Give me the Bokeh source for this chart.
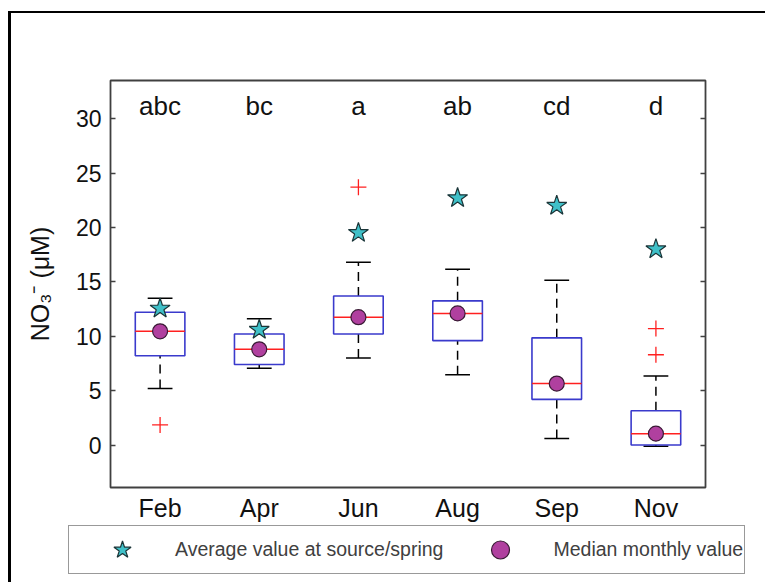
from bokeh.plotting import figure
from bokeh.models import (FactorRange, FixedTicker, LinearAxis, Range1d, Legend, LegendItem,
                          ColumnDataSource, CustomJSTickFormatter)
from bokeh.transform import dodge
from bokeh.core.properties import value
from bokeh.embed import file_html
from bokeh.resources import INLINE

months = ["Feb", "Apr", "Jun", "Aug", "Sep", "Nov"]
letters = ["abc", "bc", "a", "ab", "cd", "d"]
whisker_low = [5.2, 7.05, 8.0, 6.45, 0.6, -0.1]
q1 = [8.2, 7.4, 10.2, 9.6, 4.2, 0.0]
median = [10.45, 8.8, 11.75, 12.1, 5.65, 1.05]
q3 = [12.2, 10.2, 13.7, 13.25, 9.85, 3.15]
whisker_high = [13.5, 11.6, 16.8, 16.15, 15.15, 6.35]
source_avg = [12.55, 10.6, 19.5, 22.7, 22.0, 18.0]
outlier_month = ["Feb", "Jun", "Nov", "Nov"]
outlier_value = [1.85, 23.7, 10.7, 8.3]
letter_y = [31.2] * 6
y_ticks = [0, 5, 10, 15, 20, 25, 30]
legend_labels = ["Average value at source/spring", "Median monthly value"]

FONT = "Liberation Sans"
STAR_FILL, STAR_LINE = "#3fc0c8", "#1b3538"
CIRC_FILL, CIRC_LINE = "#b0409f", "#3a1a35"

src = ColumnDataSource(dict(month=months, letters=letters, low=whisker_low, q1=q1,
                            med=median, q3=q3, high=whisker_high, avg=source_avg,
                            ly=letter_y))
out_src = ColumnDataSource(dict(month=outlier_month, val=outlier_value))

W = 757
p = figure(width=W, height=511, output_backend="svg", toolbar_location=None,
           x_range=FactorRange(*months, range_padding=0), y_range=Range1d(-3.9, 33.5),
           min_border_left=99, min_border_right=63, min_border_top=67, min_border_bottom=35,
           styles={"margin-left": "8px", "margin-top": "11px",
                   "border-left": "3px solid black", "border-top": "2px solid black"})
p.grid.visible = False
p.outline_line_color = "#404040"
p.outline_line_width = 1.8
p.background_fill_color = "white"
p.border_fill_color = "white"

# axes
xa = p.xaxis[0]
xa.major_tick_in = 0
xa.major_tick_out = 0
xa.axis_line_color = None
xa.major_label_text_font = FONT
xa.major_label_text_font_size = "25px"
xa.major_label_text_color = "#111111"
xa.major_label_standoff = 6

ya = p.yaxis[0]
ya.ticker = FixedTicker(ticks=y_ticks)
ya.minor_tick_line_color = None
ya.major_tick_in = 5
ya.major_tick_out = 0
ya.axis_line_color = None
ya.major_tick_line_color = "#404040"
ya.major_tick_line_width = 1.5
ya.major_label_text_font = FONT
ya.major_label_text_font_size = "23px"
ya.major_label_text_color = "#111111"
ya.major_label_standoff = 9
ya.axis_label = "NO₃⁻ (μM)"
ya.axis_label_text_font = FONT
ya.axis_label_text_font_style = "normal"
ya.axis_label_text_font_size = "25px"
ya.axis_label_text_color = "#111111"
ya.axis_label_standoff = 19

ra = LinearAxis(ticker=FixedTicker(ticks=y_ticks), formatter=CustomJSTickFormatter(code="return ''"))
ra.minor_tick_line_color = None
ra.major_tick_in = 5
ra.major_tick_out = 0
ra.axis_line_color = None
ra.major_tick_line_color = "#404040"
ra.major_tick_line_width = 1.5
p.add_layout(ra, "right")

# whisker stems (dashed)
p.segment(x0="month", y0="q3", x1="month", y1="high", source=src,
          line_color="black", line_width=1.5, line_dash="9 6")
p.segment(x0="month", y0="low", x1="month", y1="q1", source=src,
          line_color="black", line_width=1.5, line_dash="9 6")
# whisker caps
for col in ("high", "low"):
    p.segment(x0=dodge("month", -0.125, range=p.x_range), y0=col,
              x1=dodge("month", 0.125, range=p.x_range), y1=col, source=src,
              line_color="black", line_width=1.5)
# boxes
p.vbar(x="month", width=0.5, bottom="q1", top="q3", source=src,
       fill_color="white", line_color="#3a3acc", line_width=1.6)
# median lines
p.segment(x0=dodge("month", -0.25, range=p.x_range), y0="med",
          x1=dodge("month", 0.25, range=p.x_range), y1="med", source=src,
          line_color="#ff2020", line_width=1.5)
# outliers
p.scatter(x="month", y="val", source=out_src, marker="cross", size=16,
          line_color="#ff2020", line_width=1.3)
# stars and circles
p.scatter(x="month", y="avg", source=src, marker="star", size=21,
          fill_color=STAR_FILL, line_color=STAR_LINE, line_width=1.2)
p.scatter(x="month", y="med", source=src, marker="circle", size=15,
          fill_color=CIRC_FILL, line_color=CIRC_LINE, line_width=1.2)
# letters
p.text(x="month", y="ly", text="letters", source=src, text_font=value(FONT),
       text_font_size="26px", text_align="center", text_baseline="middle",
       text_color="#111111")

# legend strip below the plot (separate root so its frame is not aligned with p)
lf = figure(width=W, height=60, output_backend="svg", toolbar_location=None,
            x_range=Range1d(0, 1), y_range=Range1d(0, 1), x_axis_type=None, y_axis_type=None,
            min_border=0, min_border_left=0, min_border_right=0, min_border_top=0,
            min_border_bottom=0,
            styles={"margin-left": "8px", "border-left": "3px solid black"})
lf.grid.visible = False
lf.outline_line_color = None
lf.border_fill_color = "white"
leg_star = lf.scatter(x=[-10], y=[-10], marker="star", fill_color=STAR_FILL,
                      line_color=STAR_LINE, line_width=1.2)
leg_circ = lf.scatter(x=[-10], y=[-10], marker="circle", fill_color=CIRC_FILL,
                      line_color=CIRC_LINE, line_width=1.2)
legend = Legend(items=[LegendItem(label=legend_labels[0], renderers=[leg_star]),
                       LegendItem(label=legend_labels[1], renderers=[leg_circ])],
                orientation="horizontal", location=(57, 8),
                padding=1, margin=0, spacing=5, glyph_width=104, glyph_height=45,
                label_standoff=1, label_text_font=FONT, label_text_font_size="19.5px",
                label_text_color="#404040", border_line_color="#333333",
                border_line_width=1.5, background_fill_color="white", background_fill_alpha=1)
lf.add_layout(legend, "center")

open("out.html", "w").write(file_html([p, lf], INLINE))
